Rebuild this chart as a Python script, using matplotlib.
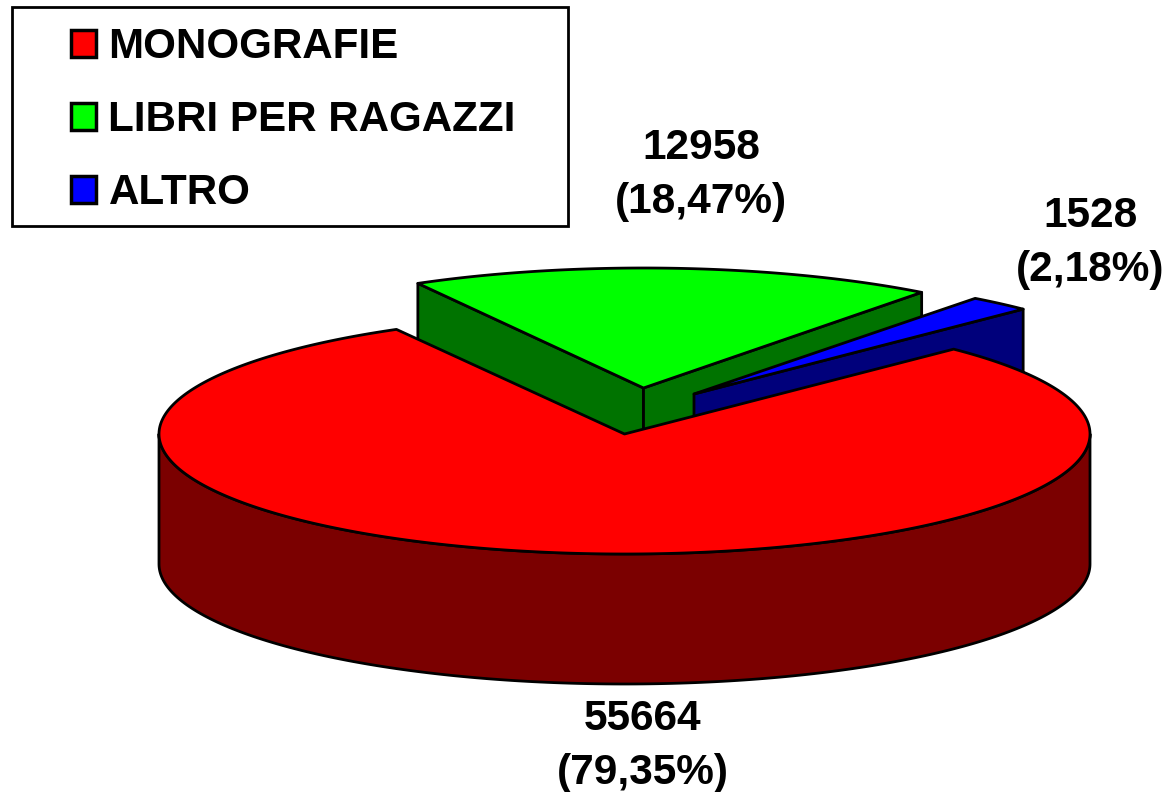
import numpy as np
import matplotlib
matplotlib.use("Agg")
import matplotlib.pyplot as plt
from matplotlib.patches import Polygon, Rectangle

categories = ["MONOGRAFIE", "LIBRI PER RAGAZZI", "ALTRO"]
values = [55664, 12958, 1528]
top_colors = ["#FF0000", "#00FF00", "#0000FF"]
side_colors = ["#7B0000", "#007300", "#00007B"]

W, H = 1169, 792
CX, CY, RX, RY, DEPTH = 624.5, 434.0, 465.5, 120.0, 130.0
THETA0 = 45.0            # where the last slice ends (degrees, counter-clockwise)
EXPLODE = {1: (19.0, -46.0), 2: (69.5, -40.0)}
EXPLODE_RX = {1: 460.5, 2: 465.5}
LABEL_POS = {0: (643, 746), 1: (701, 175), 2: (1090, 243)}
LW = 2.0
FONT = ["Liberation Sans", "DejaVu Sans"]

fig = plt.figure(figsize=(W / 100, H / 100), dpi=100, facecolor="white")
ax = fig.add_axes([0, 0, 1, 1])
ax.set_xlim(0, W)
ax.set_ylim(H, 0)
ax.axis("off")

# slice angles derived from the values
total = sum(values)
sweep = [v / total * 360 for v in values]
blue_rng = (THETA0, THETA0 + sweep[2])
green_rng = (blue_rng[1], blue_rng[1] + sweep[1])
red_rng = (green_rng[1], green_rng[1] + sweep[0])


def arc(t0, t1, cx, cy, n=200, rx=RX):
    t = np.radians(np.linspace(t0, t1, n))
    return np.column_stack([cx + rx * np.cos(t), cy - RY * np.sin(t)])


def poly(pts, fc, z):
    ax.add_patch(Polygon(pts, closed=True, facecolor=fc, edgecolor="black",
                         linewidth=LW, joinstyle="round", zorder=z))


def exploded(idx, rng, z):
    dx, dy = EXPLODE[idx]
    cx, cy = CX + dx, CY + dy
    rim = arc(rng[0], rng[1], cx, cy, rx=EXPLODE_RX[idx])
    apex = np.array([cx, cy])
    down = np.array([0, DEPTH])
    # radial side faces that look towards the viewer
    if idx == 1:
        poly([rim[-1], apex, apex + down, rim[-1] + down], side_colors[idx], z)
    poly([apex, rim[0], rim[0] + down, apex + down], side_colors[idx], z + 0.1)
    poly(np.vstack([[apex], rim]), top_colors[idx], z + 0.2)


exploded(1, green_rng, 1)
exploded(2, blue_rng, 2)

# main slice: outer wall then top
front = arc(180, 360, CX, CY)
poly(np.vstack([front, front[::-1] + [0, DEPTH]]), side_colors[0], 3)
poly(np.vstack([[[CX, CY]], arc(red_rng[0], red_rng[1], CX, CY, 500)]), top_colors[0], 4)

# value labels
for i, v in enumerate(values):
    pct = f"{v / total * 100:.2f}".replace(".", ",")
    x, y = LABEL_POS[i]
    ax.text(x, y, f"{v}\n({pct}%)", ha="center", va="center", fontsize=30.5,
            fontweight="bold", family=FONT, linespacing=1.48, zorder=6, color="black")

# legend with a separately sized frame
ax.add_patch(Rectangle((12, 7), 556, 219, facecolor="white", edgecolor="black",
                       linewidth=2.0, zorder=5))
handles = [Rectangle((0, 0), 1, 1, facecolor=c, edgecolor="black", linewidth=2.5) for c in top_colors]
leg = ax.legend(handles, categories, loc="upper left", bbox_to_anchor=(71 / W, 1 - 27 / H),
                bbox_transform=fig.transFigure, frameon=False, borderpad=0, borderaxespad=0,
                handlelength=0.6, handleheight=0.6, handletextpad=0.29, labelspacing=0.79,
                prop={"family": FONT, "weight": "bold", "size": 30.3})
leg.set_zorder(7)

fig.savefig("out.png", dpi=100)
